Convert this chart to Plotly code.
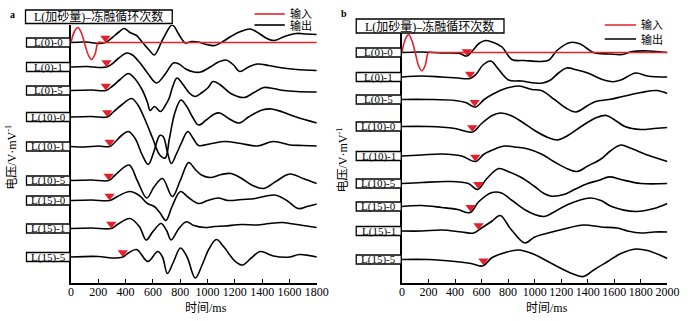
import numpy as np
import plotly.graph_objects as go

W, H = 697, 321

labels = ["L(0)-0", "L(0)-1", "L(0)-5", "L(10)-0", "L(10)-1",
          "L(10)-5", "L(15)-0", "L(15)-1", "L(15)-5"]

# ---------------- panel a : 0-1800 ms ----------------
offset_a = [240, 215.5, 192, 165.5, 136, 102, 82, 54, 25.5]
arrival_a = [252, 260, 255, 265, 283, 276, 283, 295, 379]

in_t_a = [0, 25, 50, 75, 100, 125, 150, 175, 200, 230, 400, 1800]
in_v_a = [0, 11, 15, 10, -1, -12, -17, -12, 0, 0, 0, 0]

ta1 = [0, 109, 202, 252, 303, 346, 389, 432, 480, 518, 575, 610, 675, 742, 790, 838, 883, 934, 991, 1053, 1113, 1170, 1242, 1313, 1378, 1435, 1486, 1564, 1650, 1722, 1800]
va1 = [0, 0.5, -1, 0, 5, 10, 14, 10, 7, 1, -8, -12.5, 4, 17.5, 8, -0.5, 1, 0.5, -2, -3, 1, 6, 11, 13.5, 9, 4, 2, 6, 9, 8.5, 8]

ta2 = [0, 120, 200, 260, 300, 350, 410, 450, 500, 560, 626, 690, 750, 790, 840, 900, 950, 1020, 1080, 1135, 1190, 1235, 1300, 1365, 1450, 1550, 1650, 1800]
va2 = [0, 0.5, -0.5, 0, 3, 9, 14, 12, 5, -6, -16, -7, 4, 3, -2, -5, -5, 0, 5, 7, 2, -4.5, 0, 3, 1.5, -1, -2.5, -3.5]

ta3 = [0, 150, 255, 300, 360, 420, 460, 520, 560, 580, 611, 655, 690, 718, 745, 776, 820, 870, 910, 960, 1005, 1040, 1090, 1170, 1268, 1340, 1412, 1480, 1560, 1650, 1800]
va3 = [0, 0.5, 0, 4, 11, 17, 13, 1, -12, -20, -16, -21, -15, -8, 4, 12.5, 6, -3, -6, -2, 3, 9, 6, -3, -7, -2, 3, 2, 0, -1, -1.5]

ta4 = [0, 150, 265, 310, 370, 444, 490, 540, 600, 650, 690, 720, 760, 805, 850, 890, 934, 990, 1050, 1090, 1160, 1233, 1300, 1400, 1470, 1550, 1650, 1800]
va4 = [0, 0.5, 0, 5, 12, 18.5, 12, -2, -22, -38, -41, -22, 4, 17, 10, 0, -8, -3, 3, 4, -2, -6, 0, 7, 8, 5, 0, -6]

ta5 = [0, 100, 200, 283, 320, 370, 420, 470, 520, 565, 605, 650, 675, 705, 735, 770, 810, 855, 895, 934, 1029, 1125, 1244, 1364, 1483, 1602, 1700, 1800]
va5 = [0, -0.5, 0.5, 0, 4, 11, 15, 8, -8, -18, -6, 11, 10, -5, -17, -8, 4, 15, 8, 1, 3, 5, 3, 0.5, 5, 1.5, 1, 0.5]

ta6 = [0, 150, 276, 320, 425, 485, 555, 610, 670, 742, 800, 862, 910, 955, 1020, 1100, 1172, 1250, 1330, 1412, 1500, 1602, 1700, 1800]
va6 = [0, 0.5, 0, 5, 15.5, 0, -17.5, -6, 2, -16, 0, 18, 11, 5.5, 3, 6, 7, 2, -5, -8, -1, 6.5, 2, -3]

ta7 = [0, 150, 283, 340, 431, 500, 560, 610, 650, 695, 740, 802, 860, 934, 1000, 1077, 1150, 1250, 1350, 1493, 1580, 1663, 1730, 1800]
va7 = [0, 0.5, 0, 4, 9, 5, -3, -6, -12, -20, -6, 9, 3, -3, 0, 2.5, 0, 1, 2, 5.5, 0, -8, -6, -3.5]

ta8 = [0, 150, 295, 340, 431, 500, 551, 600, 660, 700, 733, 790, 845, 900, 980, 1050, 1125, 1250, 1364, 1450, 1550, 1602, 1700, 1800]
va8 = [0, 0.5, 0, 4, 10, 2, -11.5, -3, 5, -2, -11.5, 0, 6.7, 3, 1, 2, 2.5, 4, 3.5, 5, 6, 5, 3, 1]

ta9 = [0, 200, 300, 379, 420, 480, 563, 635, 670, 706, 750, 802, 850, 910, 960, 1010, 1065, 1120, 1200, 1256, 1320, 1387, 1483, 1602, 1672, 1800]
va9 = [0, 0.5, -1, 0, 4, 7.5, -4.5, 5.5, 0, -16.5, -5, 9, 0, -21, -8, 8, 17.5, 10, -4, -8, -1, 5.5, 1, 0, 2.5, 0]

times_a = [ta1, ta2, ta3, ta4, ta5, ta6, ta7, ta8, ta9]
amps_a = [va1, va2, va3, va4, va5, va6, va7, va8, va9]

# ---------------- panel b : 0-2000 ms ----------------
offset_b = [230, 205.5, 183, 156, 126.5, 99, 76, 51.5, 23]
arrival_b = [489, 513, 548, 530, 553, 575, 517, 577, 614]

in_t_b = [0, 25, 50, 75, 100, 125, 150, 175, 200, 230, 400, 2000]
in_v_b = [0, 13, 18, 12, 0, -13, -18.5, -13, 0, 0, 0, 0]

tb1 = [0, 150, 300, 435, 489, 533, 580, 631, 690, 754, 828, 924, 1049, 1108, 1172, 1270, 1344, 1442, 1565, 1661, 1735, 1860, 2000]
vb1 = [0, 0.5, -0.5, -1, -3.5, 2, 9, 12, 10, 5.5, -7, -8, -9, -7.5, 2.5, 10, 8.5, 0, -1.5, -2, 1, 1.5, 0]

tb2 = [0, 150, 300, 420, 513, 560, 610, 670, 720, 803, 900, 1000, 1061, 1120, 1180, 1240, 1320, 1400, 1500, 1590, 1650, 1762, 1850, 2000]
vb2 = [0, 1, 0, -1, -1.5, 3, 12, 16, 9, -3, -4, -6, -6, -3, 4, 9, 7, 4, -2, -4.7, -3, 4, 1, 0]

tb3 = [0, 200, 400, 480, 553, 620, 680, 780, 880, 980, 1050, 1150, 1230, 1310, 1400, 1460, 1560, 1663, 1800, 1920, 2000]
vb3 = [0, 0, -1, -3, -7.5, 0, 5, 11, 13.5, 10, 9, 0, -8, -12.5, -6, -2, 0, 3, 7, 9, 6]

tb4 = [0, 200, 400, 533, 600, 680, 740, 820, 900, 1000, 1100, 1172, 1250, 1350, 1467, 1540, 1620, 1680, 1800, 1900, 2000]
vb4 = [0, 0, -2, -5.5, 3, 11, 13.5, 11, 5, -4, -11, -13.5, -9, 0, 9, 11, 5, 0, -3, -2, -1]

tb5 = [0, 150, 300, 450, 553, 620, 700, 770, 850, 950, 1050, 1150, 1250, 1320, 1400, 1500, 1570, 1650, 1720, 1850, 2000]
vb5 = [0, 1, 2, 0, -5.5, 2, 7, 10, 9, 7, 2, -6, -13, -15.5, -10, -3, 5, 11, 8, 1, -5.5]

tb6 = [0, 150, 350, 500, 570, 640, 730, 800, 900, 1000, 1070, 1130, 1220, 1300, 1400, 1480, 1565, 1650, 1800, 2000]
vb6 = [0, 1, 2, 0, -6, 5, 15, 12, 6, -3, -10, -12.7, -11, -6, 0, 3, 6.6, 4, 0, 0]

tb7 = [0, 150, 300, 420, 513, 580, 680, 750, 830, 930, 1000, 1073, 1140, 1250, 1417, 1500, 1580, 1762, 1900, 2000]
vb7 = [0, 1, -1, -3, -6, 5, 14, 13.5, 6, -3.5, -8, -10, -6, 2, 8.5, 6, 0, -5, -2, 3]

tb8 = [0, 150, 300, 450, 540, 600, 680, 740, 820, 926, 1000, 1100, 1220, 1368, 1500, 1620, 1700, 1800, 1900, 2000]
vb8 = [0, 0, 1, -1, -2, 3, 10, 15.5, 2, -12, -6, -2, 2, 6, 4, 3, 0, -2, -1, -1]

tb9 = [0, 200, 400, 520, 607, 680, 780, 877, 980, 1100, 1200, 1300, 1368, 1450, 1550, 1650, 1762, 1850, 1950, 2000]
vb9 = [0, 0, -2, -4, -6.5, 2, 7, 9.5, 6, -2, -9, -15, -17, -10, -2, 6, 10.5, 9, 4, 1]

times_b = [tb1, tb2, tb3, tb4, tb5, tb6, tb7, tb8, tb9]
amps_b = [vb1, vb2, vb3, vb4, vb5, vb6, vb7, vb8, vb9]

RED = "#e3202a"
SERIF = "Liberation Serif, Noto Sans CJK SC"
CJK = "Noto Sans CJK SC"

fig = go.Figure()


def px_x(p):
    return p / W


def px_y(p):
    return 1 - p / H


def add_panel(xa, ya, times, amps, offsets, arrivals, in_t, in_v, box_x0, box_x1):
    xref = xa.replace("xaxis", "x")
    yref = ya.replace("yaxis", "y")
    for t, v, off in zip(times, amps, offsets):
        fig.add_trace(go.Scatter(
            x=t, y=np.asarray(v, float) + off, mode="lines",
            line=dict(color="black", width=1.6, shape="spline", smoothing=1.0),
            xaxis=xref, yaxis=yref, showlegend=False, hoverinfo="skip"))
    # input pulse drawn on the first record
    fig.add_trace(go.Scatter(
        x=in_t, y=np.asarray(in_v, float) + offsets[0], mode="lines",
        line=dict(color=RED, width=1.6, shape="spline", smoothing=1.0),
        xaxis=xref, yaxis=yref, showlegend=False, hoverinfo="skip"))
    # first-arrival picks sitting on each record
    my = [np.interp(ta, t, v) + off + 4.5 for ta, t, v, off in zip(arrivals, times, amps, offsets)]
    fig.add_trace(go.Scatter(
        x=arrivals, y=my, mode="markers",
        marker=dict(symbol="triangle-down", size=9, color=RED, line=dict(width=0)),
        xaxis=xref, yaxis=yref, showlegend=False, hoverinfo="skip", cliponaxis=False))
    # sample label boxes
    for lab, off in zip(labels, offsets):
        fig.add_shape(type="rect", xref="paper", yref=yref,
                      x0=px_x(box_x0), x1=px_x(box_x1), y0=off - 4.5, y1=off + 4.5,
                      line=dict(color="black", width=1.3), fillcolor="white", layer="above")
        fig.add_annotation(xref="paper", yref=yref, x=px_x((box_x0 + box_x1) / 2), y=off,
                           text=lab, showarrow=False, xanchor="center", yanchor="middle",
                           font=dict(family=SERIF, size=11, color="black"))


add_panel("xaxis", "yaxis", times_a, amps_a, offset_a, arrival_a, in_t_a, in_v_a, 24, 68.5)
add_panel("xaxis2", "yaxis2", times_b, amps_b, offset_b, arrival_b, in_t_b, in_v_b, 361, 407)

axis_common = dict(showgrid=False, zeroline=False, showline=True, linecolor="black",
                   linewidth=1.5)
tick_common = dict(ticks="inside", ticklen=4, tickwidth=1.2, tickcolor="black",
                   ticklabelstandoff=-3,
                   tickfont=dict(family=SERIF, size=12, color="black"))
fig.update_layout(
    width=W, height=H, margin=dict(l=0, r=0, t=0, b=0),
    paper_bgcolor="white", plot_bgcolor="white",
    xaxis=dict(domain=[px_x(69.5), px_x(320.7)], range=[0, 1800], anchor="y",
               tickvals=list(range(0, 1801, 200)), **tick_common, **axis_common),
    yaxis=dict(domain=[px_y(282.5), px_y(25)], range=[0, 257.5], anchor="x",
               showticklabels=False, ticks="", **axis_common),
    xaxis2=dict(domain=[px_x(407.7), px_x(679)], range=[0, 2000], anchor="y2",
                tickvals=list(range(0, 2001, 200)), **tick_common, **axis_common),
    yaxis2=dict(domain=[px_y(282.5), px_y(31)], range=[0, 251.5], anchor="x2",
                showticklabels=False, ticks="", **axis_common),
)


def text(x, y, s, size=12, family=SERIF, anchor="center", angle=0, bold=False):
    if bold:
        s = "<b>" + s + "</b>"
    fig.add_annotation(xref="paper", yref="paper", x=px_x(x), y=px_y(y), text=s,
                       showarrow=False, xanchor=anchor, yanchor="middle",
                       textangle=angle, font=dict(family=family, size=size, color="black"))


def line(x0, x1, y, color):
    fig.add_shape(type="line", xref="paper", yref="paper", x0=px_x(x0), x1=px_x(x1),
                  y0=px_y(y), y1=px_y(y), line=dict(color=color, width=1.6))


def box(x0, x1, y0, y1):
    fig.add_shape(type="rect", xref="paper", yref="paper", x0=px_x(x0), x1=px_x(x1),
                  y0=px_y(y1), y1=px_y(y0), line=dict(color="black", width=1.3),
                  fillcolor="white")


# panel a decorations
text(10, 14, "a", size=10, bold=True)
box(23, 173, 10, 23.5)
text(98, 16.5, "L(加砂量)–冻融循环次数", size=12)
line(257, 288, 14, RED)
text(291, 13.5, "输入", size=11, family=CJK, anchor="left")
line(257, 288, 25, "black")
text(291, 25.5, "输出", size=11, family=CJK, anchor="left")
text(9, 157, "电压/V·mV<sup>-1</sup>", size=12, angle=-90)
text(207, 308, "时间/ms", size=12)

# panel b decorations
text(348, 13, "b", size=10, bold=True)
box(361, 512, 19, 33)
text(436, 26, "L(加砂量)–冻融循环次数", size=12)
line(615, 647, 25, RED)
text(650, 24.5, "输入", size=11, family=CJK, anchor="left")
line(615, 647, 39, "black")
text(650, 39.5, "输出", size=11, family=CJK, anchor="left")
text(346, 160, "电压/V·mV<sup>-1</sup>", size=12, angle=-90)
text(556, 308, "时间/ms", size=12)

fig.write_html("out.html")
